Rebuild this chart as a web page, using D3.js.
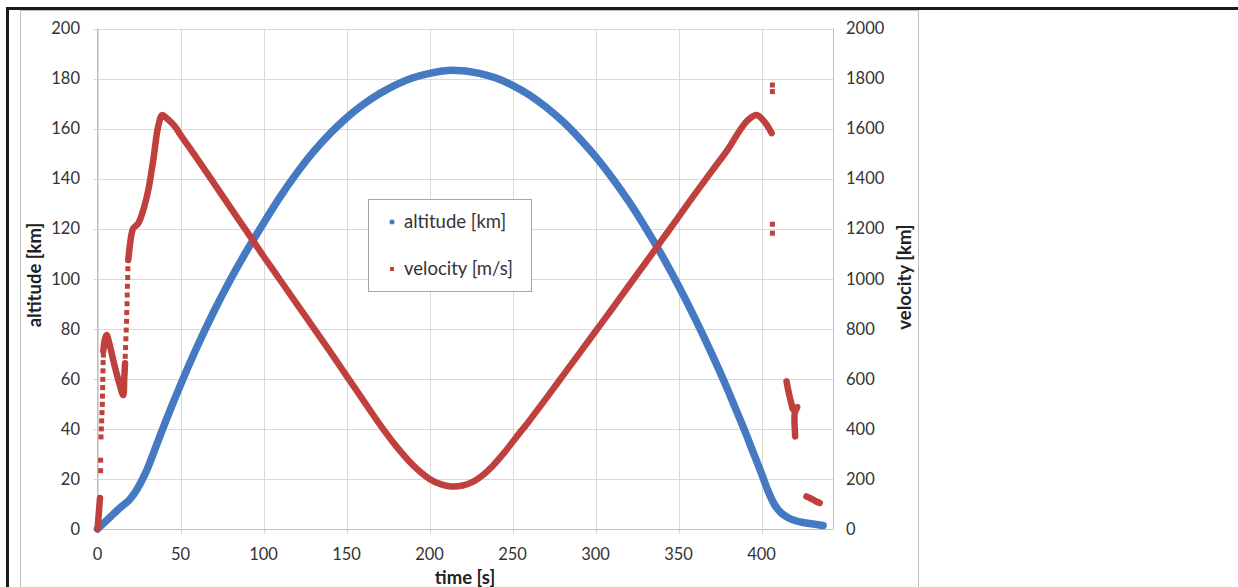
<!DOCTYPE html>
<html>
<head>
<meta charset="utf-8">
<script src="https://cdn.jsdelivr.net/npm/d3@7"></script>
<style>
  body { margin: 0; background: #fff; }
  svg { display: block; font-family: Lato, "Open Sans", sans-serif; }
</style>
</head>
<body>
<svg width="1238" height="587"></svg>
<script>
// tick labels
const timeTicks = [0, 50, 100, 150, 200, 250, 300, 350, 400];
const altTicks = [0, 20, 40, 60, 80, 100, 120, 140, 160, 180, 200];
const velTicks = [0, 200, 400, 600, 800, 1000, 1200, 1400, 1600, 1800, 2000];

// altitude [km] over time [s]
const altitude = [
  [0, 0], [4, 2.5], [8, 5], [12, 7.5], [16, 9.8], [19, 11.5], [22, 14], [26, 18.5],
  [30, 24], [34, 30.8], [38, 37.8], [42, 44.6], [46, 51.2], [50, 57.6], [60, 72.8],
  [70, 86.8], [80, 99.6], [90, 111.3], [100, 122.2], [110, 132.7], [120, 142.2],
  [130, 150.7], [140, 158], [150, 164.3], [160, 169.6], [170, 174], [180, 177.6],
  [190, 180.3], [200, 182.1], [214, 183.3], [230, 182.1], [240, 180.2], [250, 177.3],
  [260, 173.5], [270, 168.7], [280, 163], [290, 156.3], [300, 148.8], [310, 140.3],
  [320, 130.9], [330, 120.5], [340, 109.3], [350, 97.1], [360, 84], [370, 70],
  [380, 55], [385, 47], [390, 39], [395, 30.5], [400, 22], [404, 15], [408, 9.5],
  [412, 6.3], [416, 4.5], [420, 3.4], [426, 2.5], [432, 1.9], [437, 1.4]
];

// velocity [m/s]: the dense runs of markers
const velocityStart = [[0, 0], [0.8, 65], [1.5, 124]];
const velocityKink = [
  [3.5, 712], [4.5, 760], [5.5, 775], [7, 745], [10, 660], [13, 585],
  [15.5, 535], [16.1, 600], [16.6, 662]
];
const velocityMain = [
  [18.5, 1075], [20.6, 1182], [21.6, 1202], [24.6, 1222], [27.6, 1275], [30.6, 1355],
  [33.6, 1475], [36.6, 1610], [39, 1654], [41.7, 1641], [46.7, 1608], [50, 1575],
  [60, 1480], [70, 1383], [80, 1285], [90, 1188], [100, 1090], [110, 995], [120, 900],
  [130, 805], [140, 710], [150, 612], [160, 515], [170, 418], [180, 330], [190, 255],
  [200, 200], [207, 178], [213, 170], [220, 174], [226, 188], [232, 215], [238, 252],
  [245, 305], [252, 365], [260, 432], [270, 520], [280, 610], [290, 700], [300, 790],
  [310, 880], [320, 972], [330, 1063], [340, 1155], [350, 1247], [360, 1340],
  [370, 1430], [380, 1520], [387, 1594], [392, 1635], [397, 1654], [402, 1625],
  [404.5, 1600], [406, 1582]
];
const velocityReentry = [
  [415, 590], [416.5, 540], [418, 500], [419, 478], [421.5, 488], [420, 465],
  [419.8, 430], [420, 400], [420.2, 370]
];
const velocityTail = [[427, 130], [429, 124], [431, 117], [433, 110], [435, 104]];

// velocity [m/s]: loose single markers
const velocityDots = [
  [1.9, 233], [1.9, 275],
  [2.1, 368], [2.3, 400], [2.5, 432], [2.7, 465], [2.9, 498], [3.0, 531],
  [3.1, 565], [3.2, 598], [3.3, 632], [3.4, 665], [3.5, 695],
  [16.7, 690], [16.9, 725], [17.1, 760], [17.3, 795], [17.5, 830], [17.6, 865],
  [17.8, 900], [17.9, 935], [18.0, 970], [18.2, 1005], [18.3, 1040],
  [406.5, 1774], [406.5, 1748], [406.5, 1218], [406.5, 1182]
];

const blue = "#4579c2";
const red = "#c0403d";

const svg = d3.select("svg");

// outer frame: black edge + light chart border
svg.append("rect").attr("x", 20.5).attr("y", 10.5).attr("width", 898).attr("height", 600)
  .attr("fill", "#fff").attr("stroke", "#bdbdbd");
svg.append("rect").attr("x", 6).attr("y", 7).attr("width", 1240).attr("height", 3).attr("fill", "#1a1a1a");
svg.append("rect").attr("x", 6).attr("y", 7).attr("width", 3).attr("height", 600).attr("fill", "#1a1a1a");

// prettier-ignore
const x = d3.scaleLinear()
    .domain([0, 443])
    .range([97.5, 833])

// prettier-ignore
const yAlt = d3.scaleLinear()
    .domain([0, 200])
    .range([529, 28.5])

// prettier-ignore
const yVel = d3.scaleLinear()
    .domain([0, 2000])
    .range([529, 28.5])

const grid = svg.append("g").attr("class", "grid");

// horizontal gridlines (with tick stubs on the left)
grid.selectAll("line.h")
  .data(altTicks)
  .join("line")
  .attr("class", "h")
  .attr("x1", x(0) - 4)
  .attr("x2", x(443))
  .attr("y1", (d) => Math.round(yAlt(d)) + 0.5)
  .attr("y2", (d) => Math.round(yAlt(d)) + 0.5)
  .attr("stroke", "#d9d9d9");

// vertical gridlines (with tick stubs at the bottom)
grid.selectAll("line.v")
  .data(timeTicks)
  .join("line")
  .attr("class", "v")
  .attr("x1", (d) => Math.round(x(d)) + 0.5)
  .attr("x2", (d) => Math.round(x(d)) + 0.5)
  .attr("y1", yAlt(200))
  .attr("y2", yAlt(0) + 5)
  .attr("stroke", "#d9d9d9");

// axis lines
grid.append("line").attr("x1", x(0)).attr("x2", x(443)).attr("y1", 529.5).attr("y2", 529.5).attr("stroke", "#bfbfbf");
grid.append("line").attr("x1", 97.5).attr("x2", 97.5).attr("y1", yAlt(200)).attr("y2", 529.5).attr("stroke", "#bfbfbf");
grid.append("line").attr("x1", 833.5).attr("x2", 833.5).attr("y1", yAlt(200)).attr("y2", 529.5).attr("stroke", "#bfbfbf");

// tick labels
const labels = svg.append("g").attr("fill", "#333").attr("font-size", 16.5);

labels.selectAll("text.l")
  .data(altTicks)
  .join("text")
  .attr("class", "l")
  .attr("x", 80)
  .attr("y", (d) => yAlt(d))
  .attr("dy", "0.35em")
  .attr("text-anchor", "end")
  .text((d) => d);

labels.selectAll("text.r")
  .data(velTicks)
  .join("text")
  .attr("class", "r")
  .attr("x", 846)
  .attr("y", (d) => yVel(d))
  .attr("dy", "0.35em")
  .text((d) => d);

labels.selectAll("text.b")
  .data(timeTicks)
  .join("text")
  .attr("class", "b")
  .attr("x", (d) => x(d))
  .attr("y", 554)
  .attr("dy", "0.35em")
  .attr("text-anchor", "middle")
  .text((d) => d);

// axis titles
const titles = svg.append("g").attr("fill", "#222").attr("font-size", 18.5).attr("font-weight", "bold");
titles.append("text").attr("transform", "translate(41,275) rotate(-90)")
  .attr("text-anchor", "middle").text("altitude [km]");
titles.append("text").attr("transform", "translate(911,277) rotate(-90)")
  .attr("text-anchor", "middle").text("velocity [km]");
titles.append("text").attr("x", 465).attr("y", 584)
  .attr("text-anchor", "middle").text("time [s]");

// series
const altLine = d3.line()
  .x((d) => x(d[0]))
  .y((d) => yAlt(d[1]))
  .curve(d3.curveMonotoneX);

const velLine = d3.line()
  .x((d) => x(d[0]))
  .y((d) => yVel(d[1]))
  .curve(d3.curveCatmullRom);

svg.append("path")
  .attr("d", altLine(altitude))
  .attr("fill", "none")
  .attr("stroke", blue)
  .attr("stroke-width", 7.5)
  .attr("stroke-linecap", "round")
  .attr("stroke-linejoin", "round");

const velGroup = svg.append("g").attr("class", "velocity");

velGroup.selectAll("path")
  .data([velocityStart, velocityKink, velocityMain, velocityReentry, velocityTail])
  .join("path")
  .attr("d", (d) => velLine(d))
  .attr("fill", "none")
  .attr("stroke", red)
  .attr("stroke-width", 6.5)
  .attr("stroke-linecap", "round")
  .attr("stroke-linejoin", "round");

velGroup.selectAll("rect")
  .data(velocityDots)
  .join("rect")
  .attr("x", (d) => x(d[0]) - 2.5)
  .attr("y", (d) => yVel(d[1]) - 2.5)
  .attr("width", 5)
  .attr("height", 5)
  .attr("fill", red);

// legend
const legend = svg.append("g").attr("class", "legend");
legend.append("rect")
  .attr("x", 368.5).attr("y", 199.5).attr("width", 163).attr("height", 92)
  .attr("fill", "#fff").attr("stroke", "#a6a6a6");
legend.append("circle").attr("cx", 392).attr("cy", 222).attr("r", 2.5).attr("fill", blue);
legend.append("rect").attr("x", 390).attr("y", 267).attr("width", 4).attr("height", 4).attr("fill", red);
legend.append("text").attr("x", 404).attr("y", 222).attr("dy", "0.35em")
  .attr("font-size", 18.5).attr("fill", "#333").text("altitude [km]");
legend.append("text").attr("x", 404).attr("y", 269).attr("dy", "0.35em")
  .attr("font-size", 18.5).attr("fill", "#333").text("velocity [m/s]");
</script>
</body>
</html>
